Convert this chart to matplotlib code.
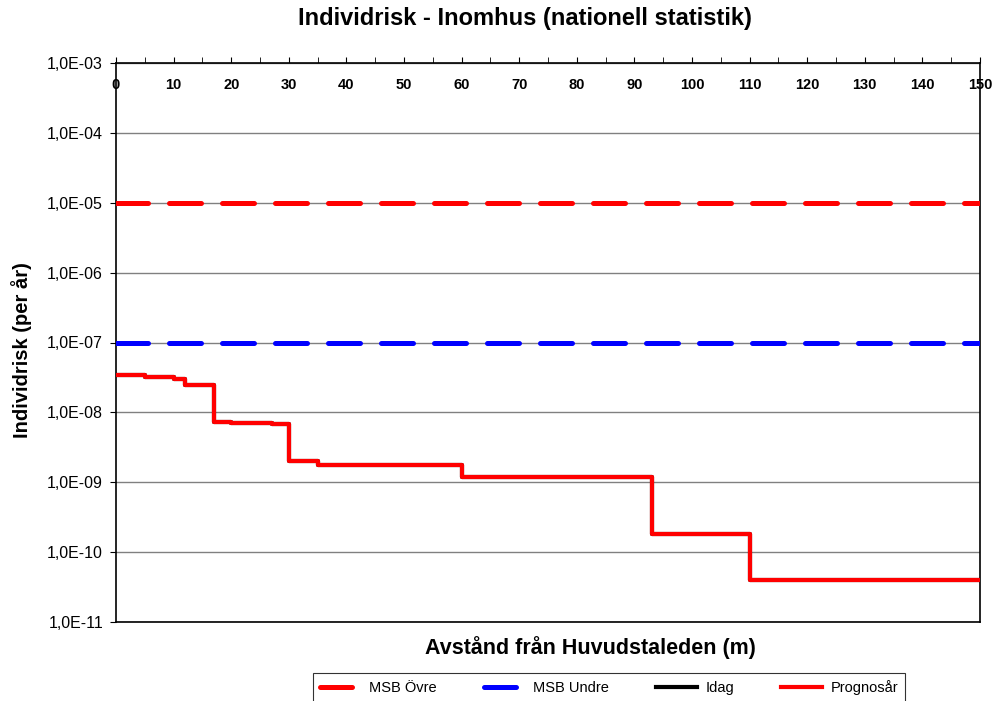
import matplotlib
matplotlib.use("Agg")
import matplotlib.pyplot as plt
from matplotlib.ticker import FixedLocator, FuncFormatter, MultipleLocator

plt.rcParams['font.family'] = ['Liberation Sans', 'DejaVu Sans']

# distance (m) where each step starts, and risk per year from there on
dist = [0, 5, 10, 12, 17, 20, 27, 30, 35, 60, 93, 110, 150]
risk = [3.4e-8, 3.2e-8, 3.0e-8, 2.45e-8, 7.4e-9, 7.1e-9, 6.9e-9,
        2.0e-9, 1.75e-9, 1.2e-9, 1.8e-10, 4.0e-11, 4.0e-11]

msb_upper = 1e-5
msb_lower = 1e-7
x_range = [0, 150]

fig = plt.figure(figsize=(9.99, 7.01), dpi=100)
ax = fig.add_axes([116/999, 1 - 622/701, (980-116)/999, (622-63)/701])

dash = (6.4, 4.2)
ax.plot(x_range, [msb_upper]*2, color='#ff0000', lw=3.6, ls=(0, dash),
        dash_capstyle='round', label='MSB Övre', zorder=3)
ax.plot(x_range, [msb_lower]*2, color='#0000ff', lw=3.6, ls=(0, dash),
        dash_capstyle='round', label='MSB Undre', zorder=3)
ax.step(dist, risk, where='post', color='black', lw=3, label='Idag', zorder=3)
ax.step(dist, risk, where='post', color='#ff0000', lw=3, label='Prognosår', zorder=4)

ax.set_yscale('log')
ax.set_ylim(1e-11, 1e-3)
ax.set_xlim(0, 150)

ax.yaxis.set_major_locator(FixedLocator([10.0**e for e in range(-11, -2)]))
ax.yaxis.set_minor_locator(FixedLocator([]))
ax.yaxis.set_major_formatter(FuncFormatter(
    lambda v, p: ('%.1E' % v).replace('.', ',')))
ax.grid(axis='y', color='#808080', lw=1)
ax.set_axisbelow(True)

ax.xaxis.set_major_locator(MultipleLocator(10))
ax.xaxis.set_minor_locator(MultipleLocator(5))
ax.xaxis.tick_top()
ax.tick_params(axis='x', which='major', direction='out', length=4, pad=-25,
               labelsize=10.5)
ax.tick_params(axis='x', which='minor', direction='out', length=4)
ax.tick_params(axis='y', direction='out', length=4.3, pad=5, labelsize=11.5)
for lab in ax.get_xticklabels():
    lab.set_fontweight('bold')

for s in ax.spines.values():
    s.set_linewidth(1.2)

fig.text(525/999, 1 - 19/701, 'Individrisk - Inomhus (nationell statistik)',
         ha='center', va='center', fontsize=17, fontweight='bold')
fig.text(22/999, 1 - 350/701, 'Individrisk (per år)', rotation=90,
         ha='center', va='center', fontsize=14.5, fontweight='bold')
fig.text(590/999, 1 - 648/701, 'Avstånd från Huvudstaleden (m)',
         ha='center', va='center', fontsize=15.5, fontweight='bold')

leg = fig.legend(loc='center', bbox_to_anchor=(609/999, 1 - 688/701), ncol=4,
                 fontsize=10.5, frameon=True, fancybox=False, edgecolor='black',
                 handlelength=2.8, columnspacing=3.2, handletextpad=0.6,
                 borderpad=0.5, borderaxespad=0)
leg.get_frame().set_linewidth(0.8)

fig.savefig('out.png', dpi=100)
